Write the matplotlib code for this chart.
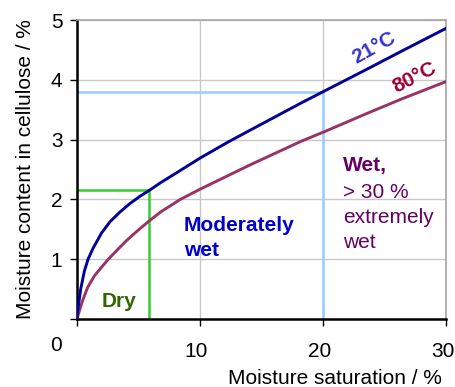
import matplotlib.pyplot as plt
from matplotlib.transforms import ScaledTranslation

# sorption isotherms of cellulose, moisture content vs. relative saturation
sat_21 = [0, 0.1, 0.3, 0.6, 0.9, 1.3, 2.0, 2.7, 3.5, 4.3, 5.1, 5.87, 6.8, 7.9,
          10, 12.2, 14.1, 18.2, 20, 23.6, 26.4, 30]
wc_21 = [0, 0.20, 0.50, 0.80, 1.00, 1.18, 1.44, 1.63, 1.79, 1.93, 2.05, 2.15,
         2.28, 2.42, 2.69, 2.95, 3.16, 3.61, 3.80, 4.18, 4.48, 4.86]

sat_80 = [0, 0.2, 0.46, 0.87, 1.41, 1.85, 2.55, 3.3, 4.02, 5.0, 5.87, 6.8, 8.4,
          10, 12.2, 14.1, 18.2, 20.2, 23.6, 26.4, 30]
wc_80 = [0, 0.14, 0.31, 0.53, 0.72, 0.83, 1.00, 1.16, 1.31, 1.49, 1.64, 1.79,
         2.00, 2.17, 2.39, 2.58, 2.97, 3.14, 3.44, 3.68, 3.97]

# boundary markers: dry limit and the 20 % reading on the 21 C curve
dry_sat, dry_wc = 5.87, 2.15
mark_sat, mark_wc = 20, 3.80

x_ticks = [10, 20, 30]
y_ticks = [1, 2, 3, 4, 5]

plt.rcParams["font.family"] = ["Liberation Sans", "DejaVu Sans"]
fs = 15

fig = plt.figure(figsize=(4.55, 3.87), dpi=100)
ax = fig.add_axes([0.1692, 0.1757, 0.8110, 0.7726])

ax.set_xlim(0, 30)
ax.set_ylim(0, 5)
ax.set_xticks([0] + x_ticks)
ax.set_yticks([0] + y_ticks)
ax.set_xticklabels([""] + [str(t) for t in x_ticks], fontsize=fs)
ax.set_yticklabels([""] + [str(t) for t in y_ticks], fontsize=fs)
ax.tick_params(axis="x", length=5, width=1, pad=11.5, direction="out")
ax.tick_params(axis="y", length=5, width=1, pad=5.5, direction="out")
shift = ScaledTranslation(-0.035, 0, fig.dpi_scale_trans)
for lab in ax.get_xticklabels():
    lab.set_transform(lab.get_transform() + shift)
ax.text(-0.056, -0.088, "0", transform=ax.transAxes, fontsize=fs,
        ha="center", va="center")

ax.grid(True, color="#c8c8c8", linewidth=1.0)
ax.set_axisbelow(True)
for side in ("top", "right"):
    ax.spines[side].set_color("#a6a6a6")
    ax.spines[side].set_linewidth(1.2)
for side in ("left", "bottom"):
    ax.spines[side].set_color("black")
    ax.spines[side].set_linewidth(1.8)

ax.plot([0, mark_sat, mark_sat], [mark_wc, mark_wc, 0], color="#99ccff",
        linewidth=1.8, zorder=2)
ax.plot([0, dry_sat, dry_sat], [dry_wc, dry_wc, 0], color="#33cc33",
        linewidth=1.8, zorder=2)

ax.plot(sat_80, wc_80, color="#993366", linewidth=2.1, zorder=3,
        solid_capstyle="round", solid_joinstyle="round")
ax.plot(sat_21, wc_21, color="#000099", linewidth=2.1, zorder=4,
        solid_capstyle="round", solid_joinstyle="round")

ax.text(24.15, 4.54, "21°C", color="#3333cc", fontsize=fs, fontweight="bold",
        rotation=29, ha="center", va="center")
ax.text(27.43, 4.04, "80°C", color="#990033", fontsize=fs, fontweight="bold",
        rotation=27, ha="center", va="center")

ax.text(8.69, 1.48, "Moderately", color="#0000cc", fontsize=fs,
        fontweight="bold", ha="left", va="baseline")
ax.text(8.69, 1.06, "wet", color="#0000cc", fontsize=fs,
        fontweight="bold", ha="left", va="baseline")
ax.text(3.45, 0.195, "Dry", color="#336600", fontsize=fs, fontweight="bold",
        ha="center", va="baseline")

wet_x = 21.62
ax.text(wet_x, 2.47, "Wet,", color="#660066", fontsize=fs, fontweight="bold",
        ha="left", va="baseline")
for txt, yb in zip(["> 30 %", "extremely", "wet"], [2.03, 1.61, 1.19]):
    ax.text(wet_x, yb, txt, color="#660066", fontsize=fs,
            ha="left", va="baseline")

ax.set_xlabel("Moisture saturation / %", fontsize=fs, ha="right", x=0.99,
              labelpad=6)
ax.set_ylabel("Moisture content in cellulose / %", fontsize=fs, labelpad=11)

fig.savefig("out.png", dpi=100)
